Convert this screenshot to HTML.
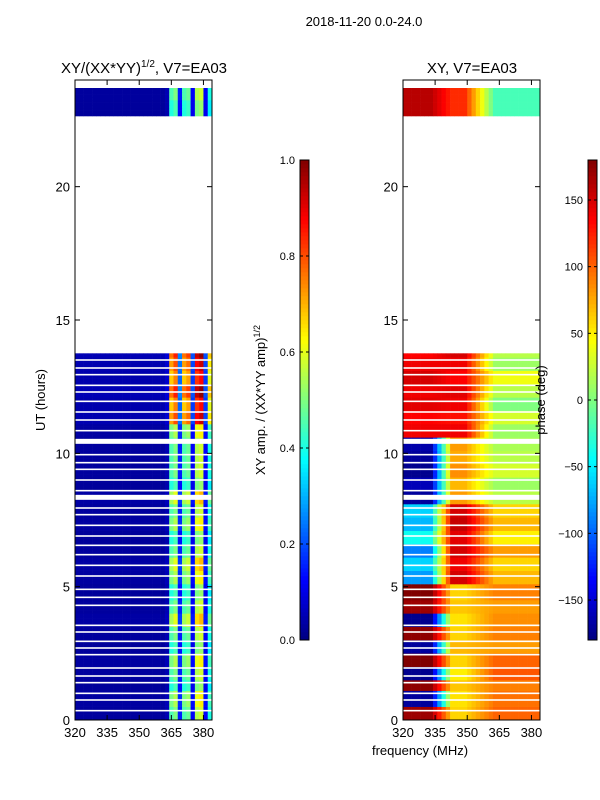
<!DOCTYPE html>
<html><head><meta charset="utf-8"><style>
body{margin:0;background:#fff;}
svg{display:block;font-family:"Liberation Sans","DejaVu Sans",sans-serif;}
</style></head><body>
<svg id="fig" width="600" height="800">
<text x="364" y="26" font-size="13" text-anchor="middle">2018-11-20 0.0-24.0</text>
<text x="144" y="73" font-size="15" text-anchor="middle">XY/(XX*YY)<tspan font-size="10" dy="-6">1/2</tspan><tspan dy="6">, V7=EA03</tspan></text>
<text x="472" y="73" font-size="15" text-anchor="middle">XY, V7=EA03</text>
<text x="420" y="755" font-size="13" text-anchor="middle">frequency (MHz)</text>
<text x="45" y="400" font-size="13" text-anchor="middle" transform="rotate(-90 45 400)">UT (hours)</text>
<text x="265" y="400" font-size="13" text-anchor="middle" transform="rotate(-90 265 400)">XY amp. / (XX*YY amp)<tspan font-size="9" dy="-5">1/2</tspan></text>
<g id="left"></g>
<g id="right"></g>
<g id="cb"></g>
<text x="545" y="400" font-size="13" text-anchor="middle" transform="rotate(-90 545 400)">phase (deg)</text>
</svg>
<script>
// ---- data ----
const freqStart = 320, freqStep = 2, nChan = 32;
const ampProfile = [0.03,0.03,0.03,0.03,0.03,0.03,0.03,0.03,0.03,0.03,0.03,0.03,0.03,0.03,0.03,0.03,0.03,0.03,0.03,0.03,0.03,0.05,0.45,0.5,0.15,0.45,0.48,0.12,0.55,0.58,0.12,0.4];
const ampRowScale = [1.0,1.1,0.9,1.0,1.1,0.9,1.0,1.2,1.0,0.9,1.1,1.2,1.0,0.9,1.1,1.0,1.2,0.9,1.0,1.0,1.0,1.1,1.6,1.5,1.7,1.5,1.6,1.7];
const ampTopScale = [0.9,1.0];
const phaseLow  = [170,-170,175,-175,180,-170,175,-175,170,180,-80,-60,-90,-40,-70,-60,-170,-160,-175,-170,-165,140,135,145,140,150,140,135];
const phaseMid  = [60,55,65,50,60,70,60,55,65,60,150,140,150,145,155,150,80,70,85,75,80,140,130,140,145,135,140,150];
const phaseHigh = [100,95,90,105,100,80,90,85,80,90,70,60,80,50,70,60,20,10,30,20,15,10,30,0,20,40,10,20];
const phaseTop = {low:160, mid:120, high:-20};
const gapHours = [0.35,0.75,1.0,1.4,1.65,1.95,2.45,2.7,2.95,3.3,3.55,4.3,4.6,4.9,5.4,5.8,6.2,6.55,6.9,7.3,7.7,7.95,8.3,8.6,9.0,9.4,9.65,9.95,10.4,10.85,11.25,11.55,11.95,12.3,12.55,12.95,13.2,13.5];
const thickGaps = [8.35,10.45];
const ampTicks = [0,0.2,0.4,0.6,0.8,1.0];
const phaseTicks = [150,100,50,0,-50,-100,-150];
const yTicks = [0,5,10,15,20];
const xTicks = [320,335,350,365,380];
// ---- helpers ----
const NS="http://www.w3.org/2000/svg";
function jet(v){v=Math.max(0,Math.min(1,v));
 const r=Math.max(0,Math.min(1,1.5-Math.abs(4*v-3))),g=Math.max(0,Math.min(1,1.5-Math.abs(4*v-2))),b=Math.max(0,Math.min(1,1.5-Math.abs(4*v-1)));
 return `rgb(${Math.round(r*255)},${Math.round(g*255)},${Math.round(b*255)})`;}
const yS=h=>720-h*(640/24);
function mk(tag,attrs,parent){const e=document.createElementNS(NS,tag);for(const k in attrs)e.setAttribute(k,attrs[k]);parent.appendChild(e);return e;}
function panel(g,x0,valFn){
 const xS=f=>x0+(f-320)*(137/64);
 const rowH=0.1;
 const blocks=[[0,13.75,false],[22.65,23.7,true]];
 for(const [a,b,top] of blocks){
  for(let h=a;h<b-1e-6;h+=rowH){
   const h2=Math.min(b,h+rowH);
   for(let c=0;c<nChan;c++){
    const f=freqStart+c*freqStep;
    const r=mk('rect',{x:xS(f).toFixed(2),y:yS(h2).toFixed(2),width:(xS(f+freqStep)-xS(f)+0.3).toFixed(2),height:(yS(h)-yS(h2)+0.3).toFixed(2),fill:jet(valFn(c,f,h,top))},g);
    
    
   }
  }
 }
 for(const gh of gapHours){const r=mk('rect',{x:x0,y:yS(gh)-0.8,width:137,height:1.6,fill:'#fff'},g);
  }
 for(const gh of thickGaps){const r=mk('rect',{x:x0,y:yS(gh)-2.5,width:137,height:5,fill:'#fff'},g);
  }
 const fr=mk('rect',{x:x0,y:80,width:137,height:640,fill:'none',stroke:'#000','stroke-width':1},g);
 
 for(const t of yTicks){const y=yS(t);
  mk('line',{x1:x0,x2:x0+5,y1:y,y2:y,stroke:'#000'},g);mk('line',{x1:x0+137,x2:x0+132,y1:y,y2:y,stroke:'#000'},g);
  const tx=mk('text',{x:x0-5,y:y+5,'font-size':13,'text-anchor':'end'},g);tx.textContent=t;
  }
 for(const t of xTicks){const x=xS(t);
  mk('line',{x1:x,x2:x,y1:720,y2:715,stroke:'#000'},g);mk('line',{x1:x,x2:x,y1:80,y2:85,stroke:'#000'},g);
  const tx=mk('text',{x:x,y:737,'font-size':13,'text-anchor':'middle'},g);tx.textContent=t;
  }
}
function ampVal(c,f,h,top){const s=top?ampTopScale[Math.min(1,Math.floor((h-22.65)/0.55))]:ampRowScale[Math.min(27,Math.floor(h/0.5))];
 return ampProfile[c]*s;}
function phaseVal(c,f,h,top){let lo,mi,hi;
 if(top){lo=phaseTop.low;mi=phaseTop.mid;hi=phaseTop.high;}
 else{const i=Math.min(27,Math.floor(h/0.5));lo=phaseLow[i];mi=phaseMid[i];hi=phaseHigh[i];}
 let p;
 if(f<332)p=lo;else if(f<342)p=lo+(mi-lo)*(f-332)/10;else if(f<348)p=mi;else if(f<362)p=mi+(hi-mi)*(f-348)/14;else p=hi;
 if(p>180)p-=360;if(p<-180)p+=360;
 return (p+180)/360;}
panel(document.getElementById('left'),75,ampVal);
panel(document.getElementById('right'),403,phaseVal);
// colorbars
const cb=document.getElementById('cb');
function colorbar(x,ticks,vmin,vmax,fmt){
 for(let i=0;i<120;i++){const r=mk('rect',{x:x,y:640-(i+1)*4,width:9,height:4.3,fill:jet((i+0.5)/120)},cb);
  }
 mk('rect',{x:x,y:160,width:9,height:480,fill:'none',stroke:'#000'},cb);
 for(const t of ticks){const y=640-(t-vmin)/(vmax-vmin)*480;
  mk('line',{x1:x,x2:x+3,y1:y,y2:y,stroke:'#000'},cb);mk('line',{x1:x+9,x2:x+6,y1:y,y2:y,stroke:'#000'},cb);
  const tx=mk('text',{x:x-5,y:y+4,'font-size':11,'text-anchor':'end'},cb);tx.textContent=fmt(t);
  }
}
colorbar(300,ampTicks,0,1,t=>t.toFixed(1));
colorbar(588,phaseTicks,-180,180,t=>t<0?'\u2212'+(-t):String(t));
</script>
</body></html>
